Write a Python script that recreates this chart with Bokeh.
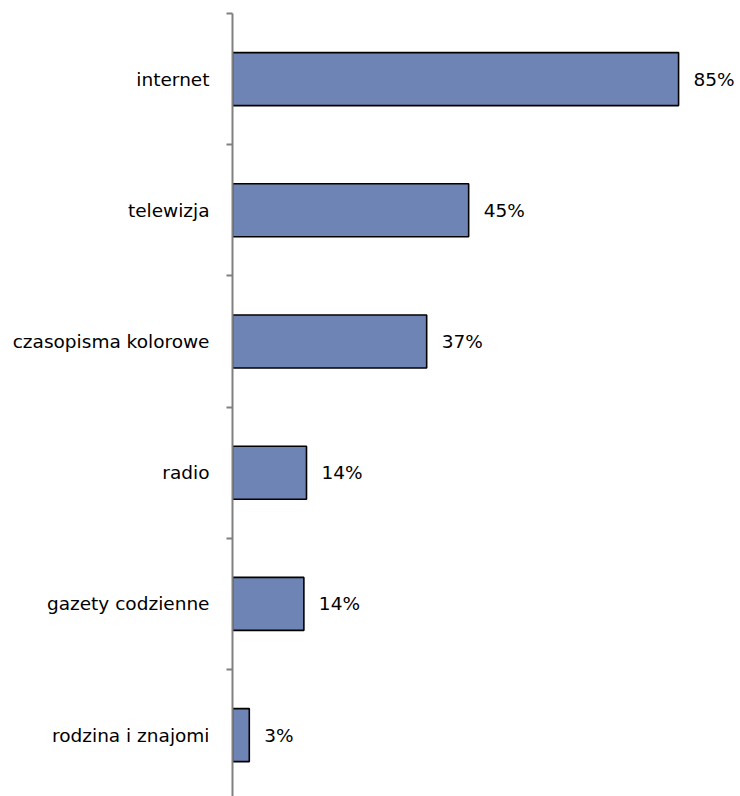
from bokeh.plotting import figure
from bokeh.models import Range1d, FixedTicker, ColumnDataSource
from bokeh.embed import file_html
from bokeh.resources import INLINE
from bokeh.core.properties import value

categories = ["internet", "telewizja", "czasopisma kolorowe", "radio", "gazety codzienne", "rodzina i znajomi"]
values = [85, 45, 37, 14.1, 13.6, 3.2]
labels = ["85%", "45%", "37%", "14%", "14%", "3%"]

n = len(categories)
ypos = [n - i - 0.5 for i in range(n)]

FONT = "DejaVu Sans"

p = figure(width=740, height=796, output_backend="svg", toolbar_location=None,
           x_range=Range1d(0, 96.8), y_range=Range1d(0.032, n),
           x_axis_location=None, min_border_left=232, min_border_right=0,
           min_border_top=13, min_border_bottom=0)
p.outline_line_color = None
p.xgrid.visible = False
p.ygrid.visible = False
p.background_fill_color = "white"
p.border_fill_color = "white"

src = ColumnDataSource(dict(y=ypos, v=values, lab=labels, cat=categories))
p.hbar(y="y", right="v", left=0, height=0.404, source=src,
       fill_color="#6d84b4", line_color="black", line_width=1.6)
p.text(x="v", y="y", text="lab", source=src, x_offset=15,
       text_font=value(FONT), text_font_size="18.5px", text_baseline="middle",
       text_align="left", text_color="black")

ax = p.yaxis[0]
ax.ticker = FixedTicker(ticks=ypos, minor_ticks=list(range(1, n + 1)))
ax.major_label_overrides = {y: c for y, c in zip(ypos, categories)}
ax.major_tick_out = 0
ax.major_tick_in = 0
ax.minor_tick_out = 6
ax.minor_tick_in = 0
ax.minor_tick_line_color = "#808080"
ax.minor_tick_line_width = 2
ax.axis_line_color = "#808080"
ax.axis_line_width = 2
ax.major_label_standoff = 17
ax.major_label_text_font = FONT
ax.major_label_text_font_size = "18.5px"
ax.major_label_text_color = "black"

open("out.html", "w").write(file_html(p, INLINE))
